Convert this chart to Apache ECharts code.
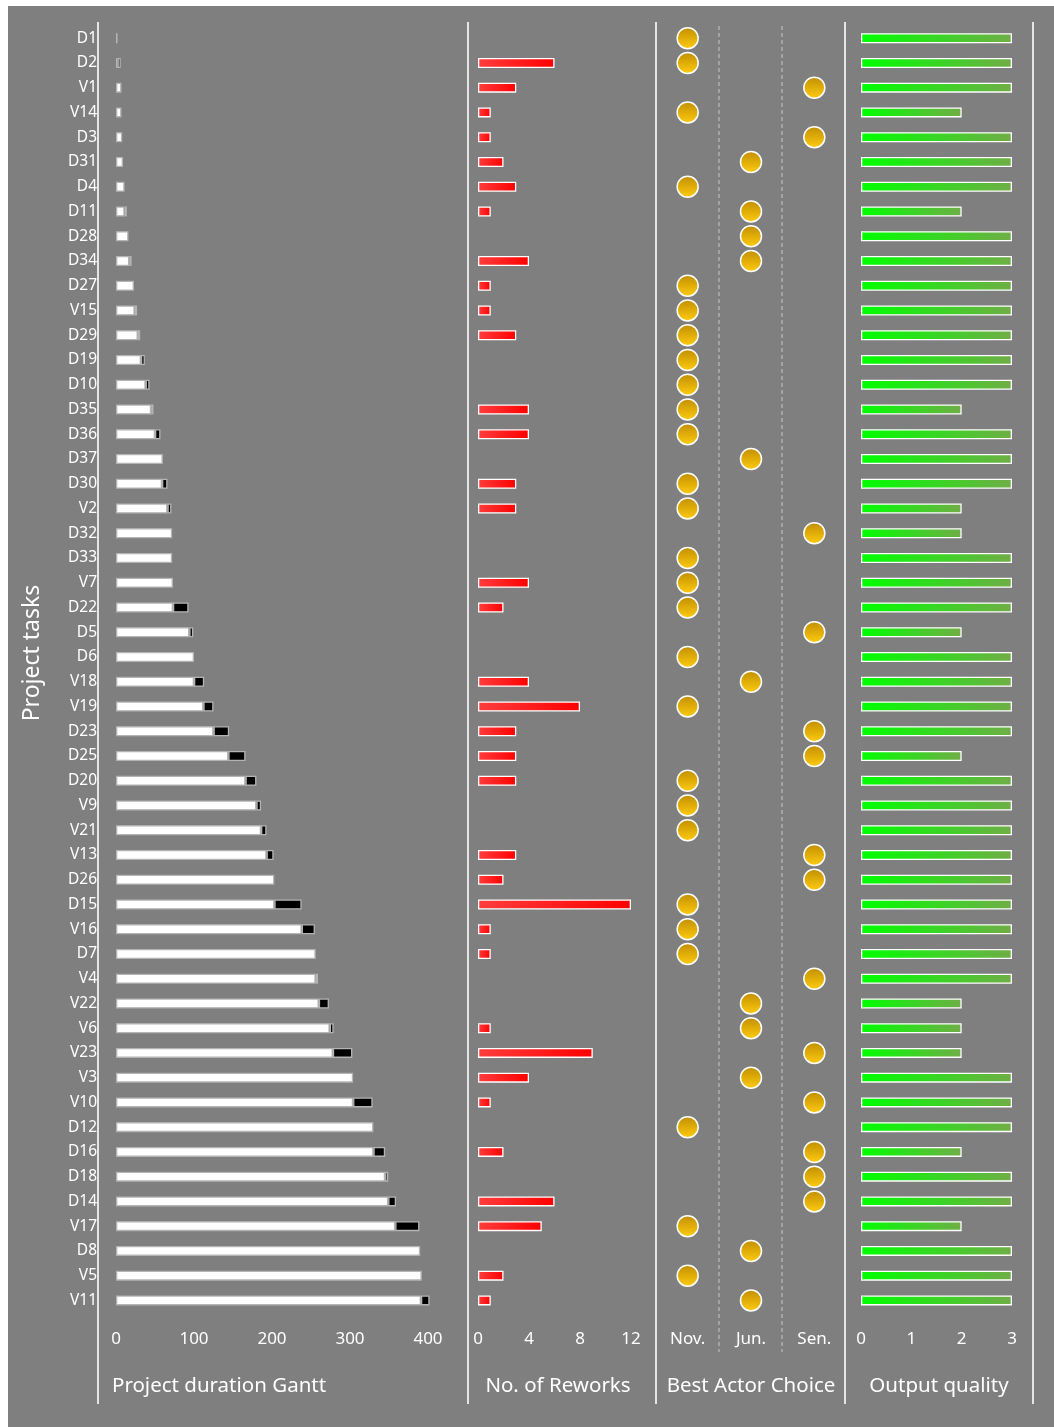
<!DOCTYPE html>
<html>
<head>
<meta charset="utf-8">
<title>Project tasks dashboard</title>
<script src="https://cdn.jsdelivr.net/npm/echarts@6/dist/echarts.min.js"></script>
<style>
  html, body { margin: 0; padding: 0; background: #ffffff; }
  #chart { width: 1054px; height: 1427px; }
</style>
</head>
<body>
<div id="chart"></div>
<script>
// ---- data -------------------------------------------------------------
const tasks = ['D1','D2','V1','V14','D3','D31','D4','D11','D28','D34','D27','V15','D29','D19','D10',
  'D35','D36','D37','D30','V2','D32','D33','V7','D22','D5','D6','V18','V19','D23','D25','D20','V9',
  'V21','V13','D26','D15','V16','D7','V4','V22','V6','V23','V3','V10','D12','D16','D18','D14','V17',
  'D8','V5','V11'];

// Gantt: offset (white) and duration (black) in days
const ganttStart = [2,2,7,7,8,9,11,11,16,17,23,24,28,32,38,45,50,60,59,66,72,72,73,73,94,100,100,112,
  125,144,166,180,186,193,203,203,238,256,256,260,274,278,304,304,330,330,345,349,358,390,392,391];
const ganttDuration = [0,4,0,0,0,0,0,3,0,3,0,3,3,5,5,3,7,0,7,5,0,0,0,20,5,0,13,13,20,22,14,6,7,9,0,
  35,17,0,3,13,5,25,0,25,0,15,4,10,31,0,0,11];

const reworks = [0,6,3,1,1,2,3,1,0,4,1,1,3,0,0,4,4,0,3,3,0,0,4,2,0,0,4,8,3,3,3,0,0,3,2,12,1,1,0,0,
  1,9,4,1,0,2,0,6,5,0,2,1];

const actorLabels = ['Nov.','Jun.','Sen.'];
const actorChoice = ['Nov.','Nov.','Sen.','Nov.','Sen.','Jun.','Nov.','Jun.','Jun.','Jun.','Nov.','Nov.',
  'Nov.','Nov.','Nov.','Nov.','Nov.','Jun.','Nov.','Nov.','Sen.','Nov.','Nov.','Nov.','Sen.','Nov.',
  'Jun.','Nov.','Sen.','Sen.','Nov.','Nov.','Nov.','Sen.','Sen.','Nov.','Nov.','Nov.','Sen.','Jun.',
  'Jun.','Sen.','Jun.','Sen.','Nov.','Sen.','Sen.','Sen.','Nov.','Jun.','Nov.','Jun.'];

const quality = [3,3,3,2,3,3,3,2,3,3,3,3,3,3,3,2,3,3,3,2,2,3,3,3,2,3,3,3,3,2,3,3,3,3,3,3,3,3,3,2,2,2,
  3,3,3,2,3,3,2,3,3,3];

const panelTitles = ['Project duration Gantt','No. of Reworks','Best Actor Choice','Output quality'];
const yTitle = 'Project tasks';

// ---- layout -----------------------------------------------------------
const FONT = '"Noto Sans", "Open Sans", sans-serif';
const rowH = 24.75;
const gridTop = 25.8;
const plotH = rowH * tasks.length;

const panels = [
  { left: 116, width: 0.78 * 440 },   // Gantt
  { left: 478, width: 12.75 * 14 },   // reworks
  { left: 656, width: 190 },          // actor choice
  { left: 861, width: 50.33 * 3 }     // quality
];
const dividers = [98, 468, 656, 845, 1033];
const innerDashes = [719, 782];

const chart = echarts.init(document.getElementById('chart'), null, { renderer: 'canvas' });

const axisText = { color: '#ffffff', fontFamily: FONT, fontSize: 17 };

function taskAxis(i, showLabels) {
  return {
    type: 'category', gridIndex: i, data: tasks, inverse: true,
    axisLine: { show: false }, axisTick: { show: false }, splitLine: { show: false },
    axisLabel: showLabels
      ? { show: true, color: '#ffffff', fontFamily: FONT, fontSize: 15.5, margin: 19 }
      : { show: false }
  };
}

const redFill = new echarts.graphic.LinearGradient(0, 0, 1, 0, [
  { offset: 0, color: '#ff3d3d' }, { offset: 1, color: '#ff0000' }]);
const greenFill = new echarts.graphic.LinearGradient(0, 0, 1, 0, [
  { offset: 0, color: '#00ff00' }, { offset: 1, color: '#70ad47' }]);
const goldFill = new echarts.graphic.LinearGradient(0, 0, 0, 1, [
  { offset: 0, color: '#c08e00' }, { offset: 1, color: '#ffcc10' }]);

const graphics = [
  { type: 'rect', shape: { x: 8, y: 6, width: 1046, height: 1421 },
    style: { fill: '#7f7f7f' }, z: -100, silent: true }
];
dividers.forEach(x => graphics.push({
  type: 'line', shape: { x1: x, y1: 22, x2: x, y2: 1404 },
  style: { stroke: '#ffffff', lineWidth: 1.6 }, z: 10, silent: true
}));
innerDashes.forEach(x => graphics.push({
  type: 'line', shape: { x1: x, y1: 26, x2: x, y2: 1352 },
  style: { stroke: '#c8c8c8', lineWidth: 1, lineDash: [4, 3] }, z: 10, silent: true
}));
const titleY = 1386;
const titleFont = '20.5px ' + FONT;
graphics.push({ type: 'text', x: 112, y: titleY,
  style: { text: panelTitles[0], fill: '#ffffff', font: titleFont, textAlign: 'left', textVerticalAlign: 'middle' } });
[[1, 558], [2, 751], [3, 939]].forEach(([i, cx]) => graphics.push({
  type: 'text', x: cx, y: titleY,
  style: { text: panelTitles[i], fill: '#ffffff', font: titleFont, textAlign: 'center', textVerticalAlign: 'middle' }
}));
graphics.push({ type: 'text', x: 32, y: 653, rotation: Math.PI / 2,
  style: { text: yTitle, fill: '#ffffff', font: '23px ' + FONT, textAlign: 'center', textVerticalAlign: 'middle' } });

const option = {
  backgroundColor: '#ffffff',
  animation: false,
  grid: panels.map(p => ({ left: p.left, width: p.width, top: gridTop, height: plotH, containLabel: false })),
  xAxis: [
    { type: 'value', gridIndex: 0, min: 0, max: 440, interval: 100,
      axisLine: { show: false }, axisTick: { show: false }, splitLine: { show: false },
      axisLabel: Object.assign({ margin: 18, showMaxLabel: false,
        formatter: v => (v % 100 === 0 ? String(v) : '') }, axisText) },
    { type: 'value', gridIndex: 1, min: 0, max: 14, interval: 4,
      axisLine: { show: false }, axisTick: { show: false }, splitLine: { show: false },
      axisLabel: Object.assign({ margin: 18, showMaxLabel: false,
        formatter: v => (v % 4 === 0 ? String(v) : '') }, axisText) },
    { type: 'category', gridIndex: 2, data: actorLabels, boundaryGap: true,
      axisLine: { show: false }, axisTick: { show: false }, splitLine: { show: false },
      axisLabel: Object.assign({ margin: 18 }, axisText) },
    { type: 'value', gridIndex: 3, min: 0, max: 3, interval: 1,
      axisLine: { show: false }, axisTick: { show: false }, splitLine: { show: false },
      axisLabel: Object.assign({ margin: 18 }, axisText) }
  ],
  yAxis: [taskAxis(0, true), taskAxis(1, false), taskAxis(2, false), taskAxis(3, false)],
  series: [
    { name: 'Start', type: 'bar', xAxisIndex: 0, yAxisIndex: 0, stack: 'gantt', barWidth: 10,
      itemStyle: { color: '#ffffff', borderColor: '#b4b4b4', borderWidth: 1.3 },
      data: ganttStart },
    { name: 'Duration', type: 'bar', xAxisIndex: 0, yAxisIndex: 0, stack: 'gantt', barWidth: 10,
      itemStyle: { color: '#000000', borderColor: '#b4b4b4', borderWidth: 1.3 },
      data: ganttDuration.map(v => (v > 0 ? v : '-')) },
    { name: 'Reworks', type: 'bar', xAxisIndex: 1, yAxisIndex: 1, barWidth: 10,
      itemStyle: { color: redFill, borderColor: '#ffffff', borderWidth: 1.3 },
      data: reworks.map(v => (v > 0 ? v : '-')) },
    { name: 'Best actor', type: 'scatter', xAxisIndex: 2, yAxisIndex: 2, symbolSize: 21,
      itemStyle: { color: goldFill, borderColor: '#ffffff', borderWidth: 1.5, opacity: 1 },
      data: actorChoice.map((c, i) => [c, tasks[i]]) },
    { name: 'Quality', type: 'bar', xAxisIndex: 3, yAxisIndex: 3, barWidth: 10,
      itemStyle: { color: greenFill, borderColor: '#ffffff', borderWidth: 1.3 },
      data: quality }
  ],
  graphic: graphics
};

chart.setOption(option);
</script>
</body>
</html>
